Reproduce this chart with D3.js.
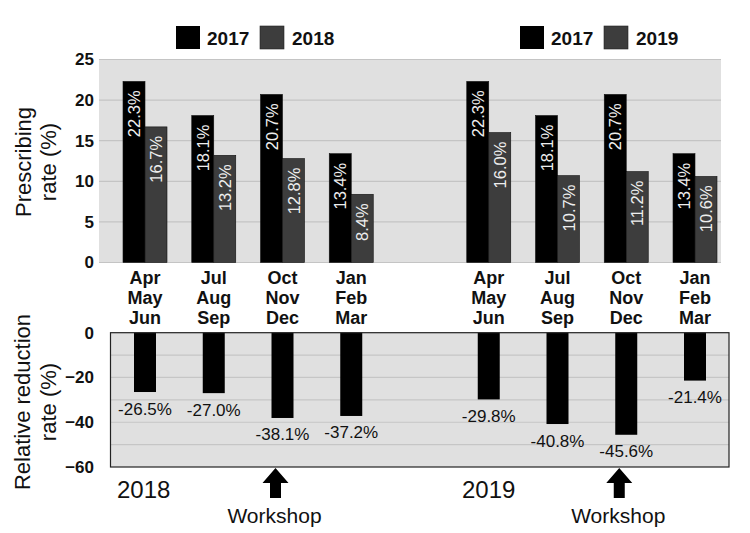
<!DOCTYPE html>
<html>
<head>
<meta charset="utf-8">
<script src="https://cdn.jsdelivr.net/npm/d3@7"></script>
<style>
  body { margin: 0; background: #fff; }
  svg { font-family: 'Liberation Sans', Arial, sans-serif; display: block; }
</style>
</head>
<body>
<div id="chart"></div>
<script>
// data
const quarters = [['Apr', 'May', 'Jun'], ['Jul', 'Aug', 'Sep'], ['Oct', 'Nov', 'Dec'], ['Jan', 'Feb', 'Mar']];
const slots = ['a0', 'a1', 'a2', 'a3', 'gap', 'b0', 'b1', 'b2', 'b3'];
const leftSlots = ['a0', 'a1', 'a2', 'a3'];
const rightSlots = ['b0', 'b1', 'b2', 'b3'];
const rate2017 = [22.3, 18.1, 20.7, 13.4];
const rate2018 = [16.7, 13.2, 12.8, 8.4];
const rate2019 = [16.0, 10.7, 11.2, 10.6];
const reduction2018 = [-26.5, -27.0, -38.1, -37.2];
const reduction2019 = [-29.8, -40.8, -45.6, -21.4];
const topTicks = [0, 5, 10, 15, 20, 25];
const bottomTicks = [0, -20, -40, -60];
const bottomGrid = [-10, -20, -30, -40, -50];

const W = 750, H = 533;
const barW = 22;
const cBlack = '#000', cGray = '#3d3d3d';

const svg = d3.select('#chart').append('svg')
    .attr('width', W)
    .attr('height', H);

const xScale = d3.scalePoint().domain(slots).range([145, 695]);

//#region top chart
const yTop = d3.scaleLinear().domain([0, 25]).range([262.5, 59.5]);
const topL = 99, topR = 721;

svg.append('rect')
    .attr('x', topL).attr('y', yTop(25))
    .attr('width', topR - topL).attr('height', yTop(0) - yTop(25))
    .attr('fill', '#e0e0e0');

svg.append('g').selectAll('line')
    .data(topTicks)
    .enter().append('line')
    .attr('x1', topL).attr('x2', topR)
    .attr('y1', d => yTop(d)).attr('y2', d => yTop(d))
    .attr('stroke', '#c4c4c4').attr('stroke-width', 1.2);

const yTopAxis = svg.append('g')
    .attr('transform', 'translate(94,0)')
    .call(d3.axisLeft(yTop).tickValues(topTicks).tickSize(0).tickPadding(0));
yTopAxis.select('.domain').remove();
yTopAxis.selectAll('text')
    .attr('font-size', 17).attr('font-weight', 'bold').attr('fill', '#111')
    .attr('font-family', "'Liberation Sans', Arial, sans-serif");

function topPairs(slotNames, first, second) {
    return slotNames.map((s, i) => ({ slot: s, a: first[i], b: second[i] }));
}
const topData = topPairs(leftSlots, rate2017, rate2018).concat(topPairs(rightSlots, rate2017, rate2019));

const gTopBars = svg.append('g');
topData.forEach(d => {
    const cx = xScale(d.slot);
    [[d.a, cx - barW, cBlack], [d.b, cx, cGray]].forEach(([v, x, col]) => {
        gTopBars.append('rect')
            .attr('x', x).attr('y', yTop(v))
            .attr('width', barW).attr('height', yTop(0) - yTop(v))
            .attr('fill', col)
            .attr('stroke', '#111').attr('stroke-width', 0.6);
        gTopBars.append('text')
            .attr('transform', `translate(${x + barW / 2},${yTop(v) + 9}) rotate(-90)`)
            .attr('text-anchor', 'end')
            .attr('dominant-baseline', 'central')
            .attr('font-size', 16.5)
            .attr('fill', '#eeeeee')
            .text(v.toFixed(1) + '%');
    });
});

// category labels
const gCats = svg.append('g');
leftSlots.concat(rightSlots).forEach((s, i) => {
    quarters[i % 4].forEach((m, j) => {
        gCats.append('text')
            .attr('x', xScale(s)).attr('y', 278 + j * 20)
            .attr('text-anchor', 'middle')
            .attr('dominant-baseline', 'central')
            .attr('font-size', 18).attr('font-weight', 'bold').attr('fill', '#111')
            .text(m);
    });
});

// legends
function legend(x, years) {
    const g = svg.append('g').attr('transform', `translate(${x},26)`);
    g.append('rect').attr('x', 0).attr('y', 0).attr('width', 24).attr('height', 23).attr('fill', cBlack);
    g.append('text').attr('x', 31).attr('y', 12).attr('dominant-baseline', 'central')
        .attr('font-size', 19).attr('font-weight', 'bold').attr('fill', '#111').text(years[0]);
    g.append('rect').attr('x', 84).attr('y', 0).attr('width', 24).attr('height', 23)
        .attr('fill', cGray).attr('stroke', '#222').attr('stroke-width', 0.6);
    g.append('text').attr('x', 116).attr('y', 12).attr('dominant-baseline', 'central')
        .attr('font-size', 19).attr('font-weight', 'bold').attr('fill', '#111').text(years[1]);
}
legend(176, ['2017', '2018']);
legend(520, ['2017', '2019']);

// y label
[['Prescribing', 23], ['rate (%)', 48]].forEach(([t, x]) => {
    svg.append('text')
        .attr('transform', `translate(${x},162) rotate(-90)`)
        .attr('text-anchor', 'middle').attr('dominant-baseline', 'central')
        .attr('font-size', 22).attr('fill', '#111')
        .text(t);
});
//#endregion

//#region bottom chart
const yBot = d3.scaleLinear().domain([-60, 0]).range([467, 332.7]);
const botL = 110.5, botR = 729;

svg.append('rect')
    .attr('x', botL).attr('y', yBot(0))
    .attr('width', botR - botL).attr('height', yBot(-60) - yBot(0))
    .attr('fill', '#e0e0e0');

svg.append('g').selectAll('line')
    .data(bottomGrid)
    .enter().append('line')
    .attr('x1', botL).attr('x2', botR)
    .attr('y1', d => yBot(d)).attr('y2', d => yBot(d))
    .attr('stroke', '#c6c6c6').attr('stroke-width', 1.2);

const botData = leftSlots.map((s, i) => ({ slot: s, v: reduction2018[i] }))
    .concat(rightSlots.map((s, i) => ({ slot: s, v: reduction2019[i] })));

svg.append('g').selectAll('rect')
    .data(botData)
    .enter().append('rect')
    .attr('x', d => xScale(d.slot) - barW / 2)
    .attr('y', yBot(0))
    .attr('width', barW)
    .attr('height', d => yBot(d.v) - yBot(0))
    .attr('fill', cBlack);

svg.append('g').selectAll('text')
    .data(botData)
    .enter().append('text')
    .attr('x', d => xScale(d.slot))
    .attr('y', d => yBot(d.v) + 17)
    .attr('text-anchor', 'middle').attr('dominant-baseline', 'central')
    .attr('font-size', 17).attr('fill', '#111')
    .text(d => d.v.toFixed(1) + '%');

svg.append('rect')
    .attr('x', botL).attr('y', yBot(0))
    .attr('width', botR - botL).attr('height', yBot(-60) - yBot(0))
    .attr('fill', 'none').attr('stroke', '#222').attr('stroke-width', 1.2);

const yBotAxis = svg.append('g')
    .attr('transform', 'translate(94,0)')
    .call(d3.axisLeft(yBot).tickValues(bottomTicks).tickSize(0).tickPadding(0));
yBotAxis.select('.domain').remove();
yBotAxis.selectAll('text')
    .attr('font-size', 17).attr('font-weight', 'bold').attr('fill', '#111')
    .attr('font-family', "'Liberation Sans', Arial, sans-serif");

[['Relative reduction', 22], ['rate (%)', 48]].forEach(([t, x]) => {
    svg.append('text')
        .attr('transform', `translate(${x},402) rotate(-90)`)
        .attr('text-anchor', 'middle').attr('dominant-baseline', 'central')
        .attr('font-size', 22).attr('fill', '#111')
        .text(t);
});

// year labels
[['2018', 117], ['2019', 462]].forEach(([t, x]) => {
    svg.append('text')
        .attr('x', x).attr('y', 489)
        .attr('dominant-baseline', 'central')
        .attr('font-size', 24).attr('fill', '#111')
        .text(t);
});

// workshop arrows
['a2', 'b2'].forEach(s => {
    const cx = xScale(s) - 7;
    const top = yBot(-60) + 1;
    svg.append('path')
        .attr('d', `M${cx},${top} L${cx + 13},${top + 15} L${cx + 5.5},${top + 15} L${cx + 5.5},${top + 30} L${cx - 5.5},${top + 30} L${cx - 5.5},${top + 15} L${cx - 13},${top + 15} Z`)
        .attr('fill', '#000');
    svg.append('text')
        .attr('x', cx - 1).attr('y', 515)
        .attr('text-anchor', 'middle').attr('dominant-baseline', 'central')
        .attr('font-size', 21).attr('fill', '#111')
        .text('Workshop');
});
//#endregion
</script>
</body>
</html>
